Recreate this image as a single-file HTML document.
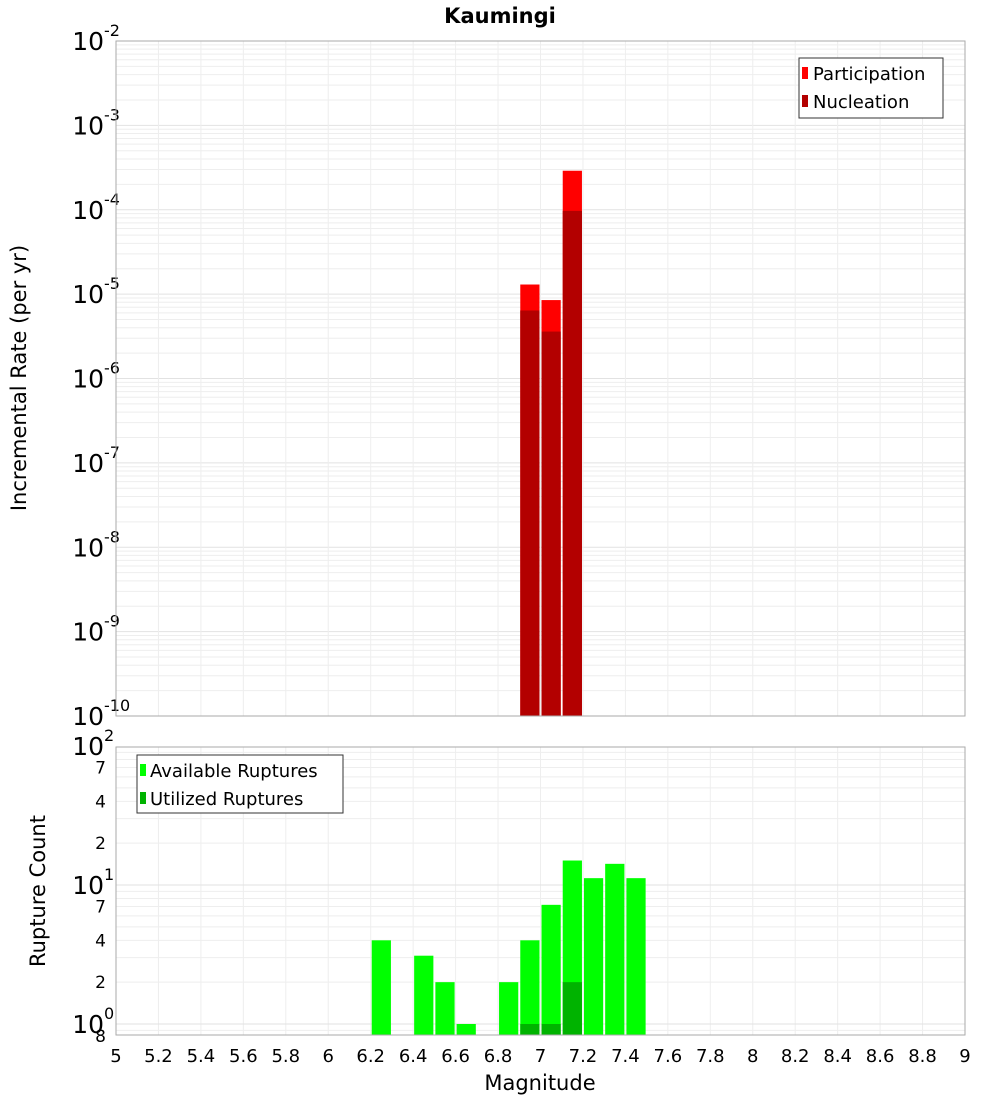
<!DOCTYPE html>
<html><head><meta charset="utf-8"><style>
body{margin:0;background:#fff;}
svg{display:block;font-family:"DejaVu Sans","Liberation Sans",sans-serif;}
</style></head><body>
<svg id="c" width="1000" height="1100" xmlns="http://www.w3.org/2000/svg">
<text x="500" y="23" text-anchor="middle" font-size="21" font-weight="bold">Kaumingi</text>
<g id="topPlot"></g>
<g id="botPlot"></g>
<text transform="translate(26,378) rotate(-90)" text-anchor="middle" font-size="21">Incremental Rate (per yr)</text>
<text transform="translate(45,891) rotate(-90)" text-anchor="middle" font-size="21">Rupture Count</text>
<text x="540" y="1090" text-anchor="middle" font-size="21">Magnitude</text>
</svg>
<script>
const rateMags=[6.95,7.05,7.15];
const participation=[1.3e-5,8.5e-6,2.9e-4];
const nucleation=[6.4e-6,3.6e-6,9.7e-5];
const countMags=[6.25,6.45,6.55,6.65,6.85,6.95,7.05,7.15,7.25,7.35,7.45];
const available=[4,3.1,2,1,2,4,7.2,15,11.2,14.2,11.2];
const utilMags=[6.95,7.05,7.15];
const utilized=[1,1,2];
const xTicks=["5","5.2","5.4","5.6","5.8","6","6.2","6.4","6.6","6.8","7","7.2","7.4","7.6","7.8","8","8.2","8.4","8.6","8.8","9"];
const rateExps=[-2,-3,-4,-5,-6,-7,-8,-9,-10];

const NS="http://www.w3.org/2000/svg";
const L=116,R=965;
const xs=m=>L+(m-5)*(R-L)/4;
const yr=v=>41+84.375*(-2-Math.log10(v));
const yc=v=>1024-139*Math.log10(v);
function mk(p,t,a){const e=document.createElementNS(NS,t);for(const k in a)e.setAttribute(k,a[k]);p.appendChild(e);return e;}
const gTop=document.getElementById('topPlot'),gBot=document.getElementById('botPlot');

for(let d=-10;d<-2;d++){for(let k=2;k<10;k++){const y=yr(k*Math.pow(10,d));
const g=mk(gTop,'line',{x1:L,x2:R,y1:y,y2:y,stroke:'#eeeeee','stroke-width':1});

}}
rateExps.forEach(e=>{const y=yr(Math.pow(10,e));
const g=mk(gTop,'line',{x1:L,x2:R,y1:y,y2:y,stroke:'#e2e2e2','stroke-width':1});


const t=mk(gTop,'text',{x:104,y:y+9,'text-anchor':'end','font-size':25});


t.textContent='10';
const s=mk(gTop,'text',{x:104,y:y-5,'font-size':16});


s.textContent=String(e);});
xTicks.forEach(s=>{const x=xs(parseFloat(s));
const g=mk(gTop,'line',{x1:x,x2:x,y1:41,y2:716,stroke:'#eeeeee'});


const g2=mk(gBot,'line',{x1:x,x2:x,y1:747,y2:1035,stroke:'#eeeeee'});


const t=mk(gBot,'text',{x:x,y:1062,'text-anchor':'middle','font-size':18});


t.textContent=s;});
rateMags.forEach((m,i)=>{const x0=xs(m-0.05)+1,x1=xs(m+0.05)-1;
const b=mk(gTop,'rect',{x:x0,y:yr(participation[i]),width:x1-x0,height:716-yr(participation[i]),fill:'#ff0000'});


const n=mk(gTop,'rect',{x:x0,y:yr(nucleation[i]),width:x1-x0,height:716-yr(nucleation[i]),fill:'#b30000'});

});
const f1=mk(gTop,'rect',{x:L,y:41,width:R-L,height:675,fill:'none',stroke:'#aaaaaa'});



for(let d=-1;d<2;d++){for(let k=1;k<10;k++){const v=k*Math.pow(10,d);if(v<0.83||v>101)continue;const y=yc(v);
const g=mk(gBot,'line',{x1:L,x2:R,y1:y,y2:y,stroke:k==1?'#e2e2e2':'#eeeeee'});

}}
[[1,'10','0'],[10,'10','1'],[100,'10','2']].forEach(([v,b,e])=>{const y=yc(v);
const t=mk(gBot,'text',{x:104,y:y+9,'text-anchor':'end','font-size':25});


t.textContent=b;
const s=mk(gBot,'text',{x:104,y:y-5,'font-size':16});


s.textContent=e;});
[[0.8,'8'],[2,'2'],[4,'4'],[7,'7'],[20,'2'],[40,'4'],[70,'7']].forEach(([v,s])=>{const y=Math.min(yc(v),1036);
const t=mk(gBot,'text',{x:106,y:y+6,'text-anchor':'end','font-size':17});


t.textContent=s;});
countMags.forEach((m,i)=>{const x0=xs(m-0.05)+1,x1=xs(m+0.05)-1,y=yc(available[i]);
const b=mk(gBot,'rect',{x:x0,y:y,width:x1-x0,height:1035-y,fill:'#00ff00'});

});
utilMags.forEach((m,i)=>{const x0=xs(m-0.05)+1,x1=xs(m+0.05)-1,y=yc(utilized[i]);
const b=mk(gBot,'rect',{x:x0,y:y,width:x1-x0,height:1035-y,fill:'#00b300'});

});
const f2=mk(gBot,'rect',{x:L,y:747,width:R-L,height:288,fill:'none',stroke:'#aaaaaa'});


</script>
<svg style="position:absolute;left:0;top:0" width="1000" height="1100" xmlns="http://www.w3.org/2000/svg">
<g font-family="DejaVu Sans, Liberation Sans, sans-serif" font-size="18">
<rect x="799" y="58" width="144" height="60" fill="#fff" stroke="#333"/>
<rect x="802" y="67" width="6" height="12" fill="#ff0000"/>
<text x="813" y="80">Participation</text>
<rect x="802" y="95" width="6" height="12" fill="#b30000"/>
<text x="813" y="108">Nucleation</text>
</g>
<g font-family="DejaVu Sans, Liberation Sans, sans-serif" font-size="18">
<rect x="137" y="755" width="206" height="58" fill="#fff" stroke="#333"/>
<rect x="140" y="764" width="6" height="12" fill="#00ff00"/>
<text x="150" y="777">Available Ruptures</text>
<rect x="140" y="792" width="6" height="12" fill="#00b300"/>
<text x="150" y="805">Utilized Ruptures</text>
</g>
</svg>
</body></html>
